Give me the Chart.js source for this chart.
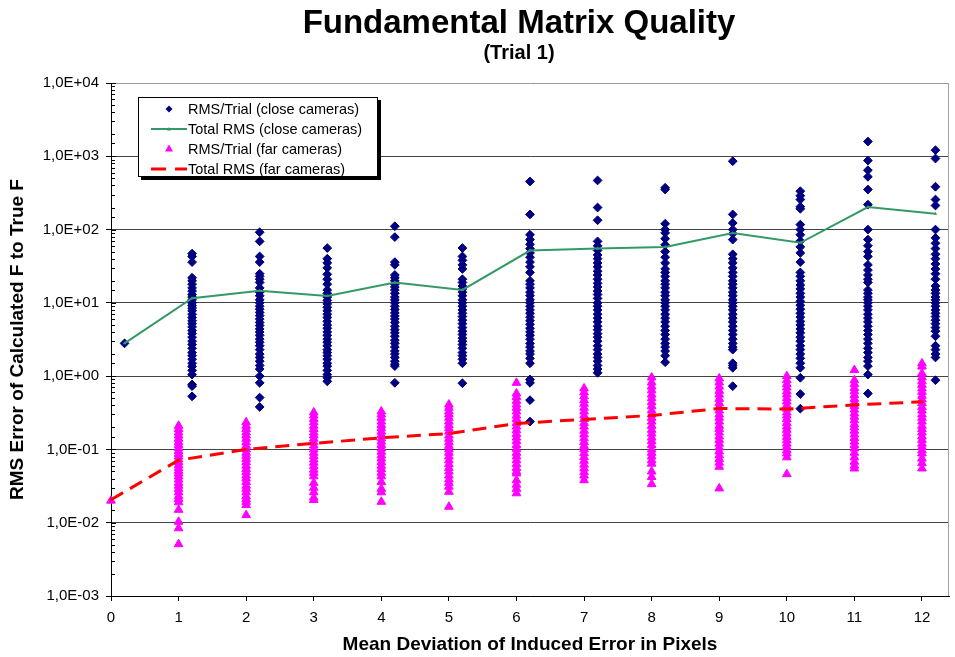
<!DOCTYPE html>
<html>
<head>
<meta charset="utf-8">
<script src="https://cdn.jsdelivr.net/npm/chart.js@4.4.1/dist/chart.umd.min.js"></script>
<style>
  body { margin: 0; background: #fff; font-family: "Liberation Sans", Arial, sans-serif; }
  #wrap { position: relative; width: 955px; height: 657px; }
  #chart { position: absolute; left: 0; top: 0; }
  .title { position: absolute; left: 219px; width: 600px; text-align: center; font-weight: bold; color: #000; }
  #t1 { top: 3px; font-size: 33px; line-height: 38px; }
  #t2 { top: 41px; font-size: 20px; line-height: 22px; }
  #legend { position: absolute; left: 138px; top: 97px; width: 240px; height: 80px; box-sizing: border-box;
            border: 1px solid #000; background: #fff; box-shadow: 3px 3px 0 #000; padding-top: 1px; }
  .row { height: 20px; position: relative; font-size: 14.5px; line-height: 20px; color: #000; }
  .row svg { position: absolute; left: 12px; top: 0; }
  .row span { position: absolute; left: 49px; top: 0; white-space: nowrap; }
</style>
</head>
<body>
<div id="wrap">
  <canvas id="chart" width="955" height="657"></canvas>
  <div class="title" id="t1">Fundamental Matrix Quality</div>
  <div class="title" id="t2">(Trial 1)</div>
  <div id="legend">
    <div class="row"><svg width="36" height="20"><polygon points="18,6.5 21.5,10 18,13.5 14.5,10" fill="#000080"/></svg><span>RMS/Trial (close cameras)</span></div>
    <div class="row"><svg width="36" height="20"><line x1="0" y1="10" x2="36" y2="10" stroke="#339966" stroke-width="2"/><polygon points="18,8 20,11.5 16,11.5" fill="#339966"/></svg><span>Total RMS (close cameras)</span></div>
    <div class="row"><svg width="36" height="20"><polygon points="18,5.5 22,12.5 14,12.5" fill="#ff00ff"/></svg><span>RMS/Trial (far cameras)</span></div>
    <div class="row"><svg width="36" height="20"><line x1="0" y1="10" x2="36" y2="10" stroke="#ff0000" stroke-width="3" stroke-dasharray="15,9"/></svg><span>Total RMS (far cameras)</span></div>
  </div>
</div>
<script>
// x values: mean deviation of induced error (pixels)
const deviations = [0, 1, 2, 3, 4, 5, 6, 7, 8, 9, 10, 11, 12];
const closeShift = 0.2;

// overall RMS per deviation
const closeTotal = [2.8, 11.6, 14.6, 12.4, 18.9, 15.0, 51.7, 55, 58, 90, 66, 203, 165];
const farTotal = [0.0206, 0.0714, 0.1, 0.121, 0.144, 0.165, 0.226, 0.257, 0.291, 0.362, 0.355, 0.405, 0.446];

// RMS of each trial, close cameras
const closeTrials = [
  [2.8],
  [47, 43, 36, 22, 20, 18, 16, 14.5, 13, 12, 11, 10, 9.2, 8.5, 7.8, 7, 6.3, 5.7, 5.2, 4.7, 4.2, 3.8, 3.4, 3, 2.7, 2.4, 2.1, 1.9, 1.7, 1.5, 1.35, 1.2, 1.05, 0.77, 0.73, 0.53],
  [92, 69, 43, 36, 25, 23, 21, 19, 16, 14, 12.5, 11, 10, 9, 8.2, 7.4, 6.7, 6, 5.4, 4.9, 4.4, 4, 3.6, 3.2, 2.9, 2.6, 2.3, 2, 1.8, 1.6, 1.4, 1.25, 1.0, 0.81, 0.51, 0.38],
  [56, 40, 35, 30, 24.5, 21, 18, 15, 13.5, 12, 10.8, 9.7, 8.7, 7.8, 7, 6.3, 5.6, 5, 4.5, 4, 3.6, 3.2, 2.9, 2.6, 2.3, 2.1, 1.9, 1.7, 1.5, 1.37, 1.2, 1.05, 0.95, 0.85],
  [111, 79, 36, 33, 24, 22, 20, 18, 16.5, 15, 13.5, 12, 11, 10, 9, 8.1, 7.3, 6.6, 6, 5.4, 4.8, 4.3, 3.9, 3.5, 3.1, 2.8, 2.5, 2.2, 2, 1.8, 1.6, 1.45, 1.37, 0.81],
  [56, 43, 38, 33, 29, 21, 19, 17, 15.5, 14, 12.5, 11, 10, 9, 8, 7.2, 6.5, 5.8, 5.2, 4.6, 4.1, 3.7, 3.3, 3, 2.7, 2.4, 2.1, 1.9, 1.7, 1.5, 0.8],
  [453, 161, 85, 73, 63, 55, 48, 42, 36, 31, 26, 20, 18, 16, 14, 12.5, 11, 10, 9, 8, 7.2, 6.4, 5.7, 5.1, 4.5, 4, 3.6, 3.2, 2.8, 2.5, 2.2, 2, 1.75, 1.5, 0.9, 0.81, 0.47, 0.24],
  [468, 200, 134, 69, 60, 52, 45, 40, 35, 31, 27, 24, 21, 18.5, 16.5, 14.5, 13, 11.5, 10, 9, 8, 7, 6.2, 5.5, 4.8, 4.3, 3.8, 3.4, 3, 2.6, 2.3, 2, 1.8, 1.6, 1.4, 1.25, 1.11],
  [372, 352, 120, 100, 90, 75, 62, 50, 42, 35, 29, 26, 23, 20, 18, 16, 14, 12.5, 11, 10, 9, 8, 7, 6.2, 5.5, 4.8, 4.2, 3.7, 3.2, 2.8, 2.5, 2.2, 1.9, 1.55],
  [857, 161, 123, 100, 88, 73, 46, 40, 35, 30, 26, 23, 20, 18, 16, 14, 12.5, 11, 10, 9, 8, 7, 6.2, 5.5, 4.8, 4.2, 3.7, 3.2, 2.8, 2.5, 2.3, 1.5, 1.4, 1.3, 0.73],
  [334, 290, 257, 205, 192, 117, 100, 85, 70, 58, 48, 36, 26, 23, 20, 17.5, 15.5, 13.5, 12, 10.5, 9.3, 8.2, 7.2, 6.4, 5.6, 5, 4.4, 3.9, 3.4, 3, 2.6, 2.3, 2, 1.75, 1.5, 1.3, 0.95, 0.57, 0.36],
  [1590, 875, 646, 525, 352, 219, 100, 73, 60, 50, 43, 33, 28, 24, 21, 19, 15, 13.5, 12, 11, 10, 9, 8, 7, 6.2, 5.5, 4.8, 4.2, 3.7, 3.2, 2.8, 2.4, 2.1, 1.8, 1.6, 1.37, 1.05, 0.58],
  [1210, 933, 384, 257, 213, 100, 77, 65, 55, 46, 40, 34, 29, 25, 21, 17, 15, 13.5, 12, 11, 10, 9, 8, 7.2, 6.5, 5.8, 5.2, 4.6, 4.1, 3.5, 2.6, 2.3, 2, 1.8, 0.88]
];

// RMS of each trial, far cameras
const farTrials = [
  [0.02],
  [0.21, 0.19, 0.17, 0.155, 0.14, 0.125, 0.115, 0.105, 0.095, 0.087, 0.08, 0.073, 0.067, 0.061, 0.056, 0.051, 0.047, 0.043, 0.039, 0.035, 0.032, 0.029, 0.026, 0.023, 0.021, 0.019, 0.015, 0.0103, 0.0084, 0.0051],
  [0.235, 0.21, 0.19, 0.17, 0.155, 0.14, 0.125, 0.112, 0.1, 0.09, 0.082, 0.074, 0.067, 0.06, 0.054, 0.049, 0.044, 0.04, 0.036, 0.032, 0.029, 0.026, 0.023, 0.021, 0.0193, 0.0174, 0.0127],
  [0.32, 0.29, 0.26, 0.235, 0.21, 0.19, 0.17, 0.155, 0.14, 0.125, 0.113, 0.1, 0.09, 0.081, 0.073, 0.066, 0.059, 0.053, 0.048, 0.043, 0.035, 0.03, 0.026, 0.022, 0.0204],
  [0.33, 0.3, 0.27, 0.24, 0.215, 0.195, 0.175, 0.158, 0.142, 0.128, 0.115, 0.103, 0.093, 0.083, 0.075, 0.067, 0.06, 0.054, 0.048, 0.043, 0.036, 0.029, 0.026, 0.0193],
  [0.41, 0.37, 0.33, 0.3, 0.27, 0.24, 0.215, 0.195, 0.175, 0.155, 0.14, 0.125, 0.112, 0.1, 0.09, 0.08, 0.071, 0.063, 0.056, 0.05, 0.044, 0.039, 0.035, 0.031, 0.0264, 0.0165],
  [0.81, 0.58, 0.52, 0.46, 0.41, 0.37, 0.33, 0.29, 0.26, 0.23, 0.205, 0.182, 0.162, 0.145, 0.13, 0.115, 0.102, 0.09, 0.08, 0.071, 0.063, 0.056, 0.05, 0.047, 0.038, 0.033, 0.029, 0.0252],
  [0.68, 0.6, 0.53, 0.47, 0.42, 0.37, 0.33, 0.29, 0.26, 0.23, 0.205, 0.18, 0.16, 0.142, 0.126, 0.112, 0.1, 0.089, 0.079, 0.07, 0.062, 0.055, 0.049, 0.044, 0.038],
  [0.96, 0.82, 0.72, 0.64, 0.56, 0.5, 0.44, 0.39, 0.34, 0.3, 0.27, 0.24, 0.21, 0.185, 0.165, 0.145, 0.13, 0.115, 0.1, 0.09, 0.08, 0.071, 0.064, 0.05, 0.042, 0.0336],
  [0.93, 0.82, 0.72, 0.63, 0.56, 0.49, 0.43, 0.38, 0.34, 0.3, 0.27, 0.24, 0.21, 0.19, 0.17, 0.15, 0.135, 0.12, 0.106, 0.094, 0.083, 0.074, 0.066, 0.058, 0.0294],
  [1.0, 0.88, 0.78, 0.7, 0.62, 0.56, 0.5, 0.45, 0.4, 0.36, 0.32, 0.29, 0.26, 0.23, 0.205, 0.185, 0.165, 0.148, 0.133, 0.12, 0.108, 0.097, 0.088, 0.078, 0.046],
  [1.21, 0.88, 0.78, 0.69, 0.62, 0.55, 0.49, 0.44, 0.39, 0.35, 0.31, 0.28, 0.25, 0.22, 0.2, 0.18, 0.16, 0.143, 0.128, 0.115, 0.103, 0.09, 0.078, 0.068, 0.06, 0.055],
  [1.49, 1.35, 1.09, 0.96, 0.85, 0.76, 0.68, 0.61, 0.54, 0.48, 0.43, 0.38, 0.34, 0.3, 0.27, 0.24, 0.21, 0.19, 0.17, 0.15, 0.135, 0.12, 0.108, 0.097, 0.088, 0.075, 0.065, 0.055]
];

const FONT = '"Liberation Sans", Arial, sans-serif';

function isDecade(v) {
  const e = Math.log10(v);
  return Math.abs(e - Math.round(e)) < 1e-6;
}

function sciLabel(v) {
  const e = Math.round(Math.log10(v));
  const sign = e < 0 ? '-' : '+';
  const digits = String(Math.abs(e)).padStart(2, '0');
  return '1,0E' + sign + digits;
}

const closePoints = [];
const farPoints = [];
deviations.forEach(function (d, i) {
  closeTrials[i].forEach(v => closePoints.push({ x: d + closeShift, y: v }));
  farTrials[i].forEach(v => farPoints.push({ x: d, y: v }));
});
const closeLine = deviations.map((d, i) => ({ x: d + closeShift, y: closeTotal[i] }));
const farLine = deviations.map((d, i) => ({ x: d, y: farTotal[i] }));

// excel-like inner minor ticks on the log axis and the grey right edge of the plot area
const axisExtras = {
  id: 'axisExtras',
  beforeDatasetsDraw(chart) {
    const ctx = chart.ctx;
    const area = chart.chartArea;
    const y = chart.scales.y;
    ctx.save();
    ctx.strokeStyle = '#000';
    ctx.lineWidth = 1;
    y.ticks.forEach(function (t) {
      const py = Math.round(y.getPixelForValue(t.value)) + 0.5;
      ctx.beginPath();
      ctx.moveTo(area.left, py);
      ctx.lineTo(area.left + (isDecade(t.value) ? 5 : 4), py);
      ctx.stroke();
    });
    ctx.strokeStyle = '#a0a0a0';
    ctx.beginPath();
    ctx.moveTo(area.right - 0.5, area.top);
    ctx.lineTo(area.right - 0.5, area.bottom);
    ctx.stroke();
    ctx.restore();
  }
};

const ctx = document.getElementById('chart').getContext('2d');

const myChart = new Chart(ctx,
{
  type: 'scatter',
  data:
  {
    datasets:
    [{
      label: 'Total RMS (close cameras)',
      data: closeLine,
      showLine: true,
      borderColor: '#339966',
      borderWidth: 2,
      pointStyle: 'triangle',
      pointRadius: 2,
      pointBackgroundColor: '#339966',
      pointBorderColor: '#339966',
      pointBorderWidth: 0,
      order: 0
    },
    {
      label: 'Total RMS (far cameras)',
      data: farLine,
      showLine: true,
      borderColor: '#ff0000',
      borderWidth: 3,
      borderDash: [14, 8],
      pointStyle: 'crossRot',
      pointRadius: 2,
      pointBorderColor: '#ff0000',
      pointBorderWidth: 1,
      clip: false,
      order: 0
    },
    {
      label: 'RMS/Trial (close cameras)',
      data: closePoints,
      pointStyle: 'rectRot',
      pointRadius: 4.4,
      pointBackgroundColor: '#000080',
      pointBorderColor: '#000080',
      pointBorderWidth: 1,
      order: 1
    },
    {
      label: 'RMS/Trial (far cameras)',
      data: farPoints,
      pointStyle: 'triangle',
      pointRadius: 5,
      pointBackgroundColor: '#ff00ff',
      pointBorderColor: '#ff00ff',
      pointBorderWidth: 1,
      clip: false,
      order: 2
    }]
  },
  options:
  {
    responsive: false,
    animation: false,
    layout: { padding: { top: 83, right: 0, left: 0, bottom: 0 } },
    plugins: {
      legend: { display: false },
      title: { display: false },
      tooltip: { enabled: false }
    },
    scales:
    {
      x: {
        type: 'linear',
        min: 0,
        max: 12.4,
        afterBuildTicks: function (scale) {
          scale.ticks = deviations.map(v => ({ value: v }));
        },
        afterFit: function (scale) {
          scale.height = 61;
          scale.paddingLeft = 0;
          scale.paddingRight = 0;
        },
        grid: { drawOnChartArea: false, drawTicks: true, tickLength: 5, color: '#000' },
        border: { display: true, color: '#000', width: 1 },
        ticks: {
          autoSkip: false,
          maxRotation: 0,
          padding: 8,
          color: '#000',
          font: { family: FONT, size: 15 },
          callback: v => String(v)
        },
        title: {
          display: true,
          text: 'Mean Deviation of Induced Error in Pixels',
          color: '#000',
          font: { family: FONT, size: 19, weight: 'bold' },
          padding: { top: 0, bottom: 1 }
        }
      },
      y: {
        type: 'logarithmic',
        min: 0.001,
        max: 10000,
        afterFit: function (scale) {
          scale.width = 111;
          scale.paddingTop = 0;
          scale.paddingBottom = 0;
        },
        grid: {
          color: c => (c.tick && isDecade(c.tick.value)) ? (c.tick.value >= 10000 ? '#999' : '#444') : 'rgba(0,0,0,0)',
          tickColor: c => (c.tick && isDecade(c.tick.value)) ? '#000' : 'rgba(0,0,0,0)',
          tickLength: 5,
          lineWidth: 1
        },
        border: { display: true, color: '#000', width: 1 },
        ticks: {
          autoSkip: false,
          padding: 7,
          color: '#000',
          font: { family: FONT, size: 15 },
          callback: v => isDecade(v) ? sciLabel(v) : ''
        },
        title: {
          display: true,
          text: 'RMS Error of Calculated F to True F',
          color: '#000',
          font: { family: FONT, size: 19, weight: 'bold' },
          padding: { top: 6, bottom: 0 }
        }
      }
    }
  },
  plugins: [axisExtras]
});
</script>
</body>
</html>
